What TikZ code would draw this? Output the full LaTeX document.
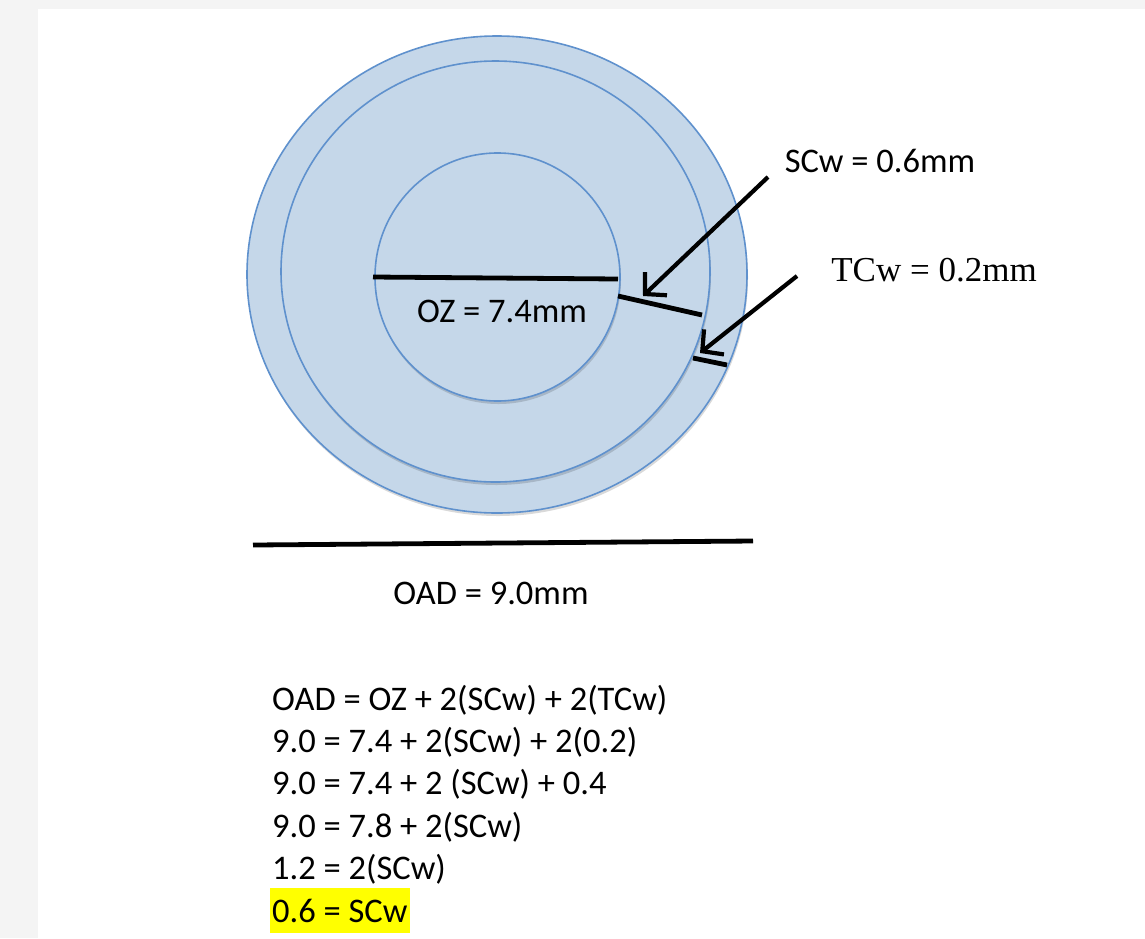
\documentclass[tikz,border=0pt]{standalone}
\usepackage{fontspec}
\setmainfont{Carlito}
\newfontfamily\cambriafont{Liberation Serif}
\usetikzlibrary{arrows.meta}
\definecolor{discfill}{RGB}{197,215,233}
\definecolor{discline}{RGB}{95,145,205}
\definecolor{pagegray}{RGB}{244,244,244}
\definecolor{marker}{RGB}{255,255,0}
\begin{document}
\begin{tikzpicture}[x=1pt, y=-1pt,
  disc/.style = {draw=discline, line width=1.6pt, fill=discfill,
    preaction={fill=black, opacity=0.15, transform canvas={xshift=1pt, yshift=-3pt}}},
  measure/.style = {line width=4.8pt},
  pointer/.style = {line width=4.2pt, -{Straight Barb[length=15pt, width=32pt]}},
  eqline/.style = {anchor=base west, inner xsep=2pt},
  every node/.style = {font=\fontsize{34.5}{42}\selectfont, inner sep=0pt}]
  % page
  \fill[pagegray] (0,0) rectangle (1145,938);
  \fill[white] (38,9) rectangle (1145,938);
  \useasboundingbox (0,0) rectangle (1145,938);
  % discs
  \draw[disc] (497,274.5) ellipse [x radius=250, y radius=238.5];
  \draw[disc] (495.5,271.5) ellipse [x radius=214.5, y radius=210.5];
  \draw[disc] (497.5,277) ellipse [x radius=122.5, y radius=124];
  % measures
  \coordinate (oz w) at (373,277);  \coordinate (oz e) at (618,279);
  \coordinate (sc in) at (618,296); \coordinate (sc out) at (702,315);
  \coordinate (tc in) at (693,358); \coordinate (tc out) at (727,365);
  \coordinate (oad w) at (253,545); \coordinate (oad e) at (753,541);
  \draw[measure] (oz w) -- (oz e);
  \draw[measure] (sc in) -- (sc out);
  \draw[measure] (tc in) -- (tc out);
  \draw[measure] (oad w) -- (oad e);
  % labels
  \node (oz) at (502,311) {OZ = 7.4mm};
  \node (oad) at (491,593) {OAD = 9.0mm};
  \node (scw) at (880,161) {SCw = 0.6mm};
  \node[font=\cambriafont\fontsize{35}{42}\selectfont] (tcw) at (934,270) {TCw = 0.2mm};
  \coordinate (sc tail) at (768,177); \coordinate (sc tip) at (643,296);
  \coordinate (tc tail) at (797,276); \coordinate (tc tip) at (700,353);
  \draw[pointer] (sc tail) -- (sc tip);
  \draw[pointer] (tc tail) -- (tc tip);
  % working
  \foreach \eq [count=\i] in {OAD = OZ + 2(SCw) + 2(TCw), 9.0 = 7.4 + 2(SCw) + 2(0.2),
      9.0 = 7.4 + 2 (SCw) + 0.4, 9.0 = 7.8 + 2(SCw), 1.2 = 2(SCw)}
    \node[eqline] (eq\i) at (270,{710+42.4*(\i-1)}) {\eq};
  \node[eqline, fill=marker, text height=32pt, text depth=9pt, inner ysep=2pt]
    (eq6) at (270,922) {0.6 = SCw};
\end{tikzpicture}
\end{document}
